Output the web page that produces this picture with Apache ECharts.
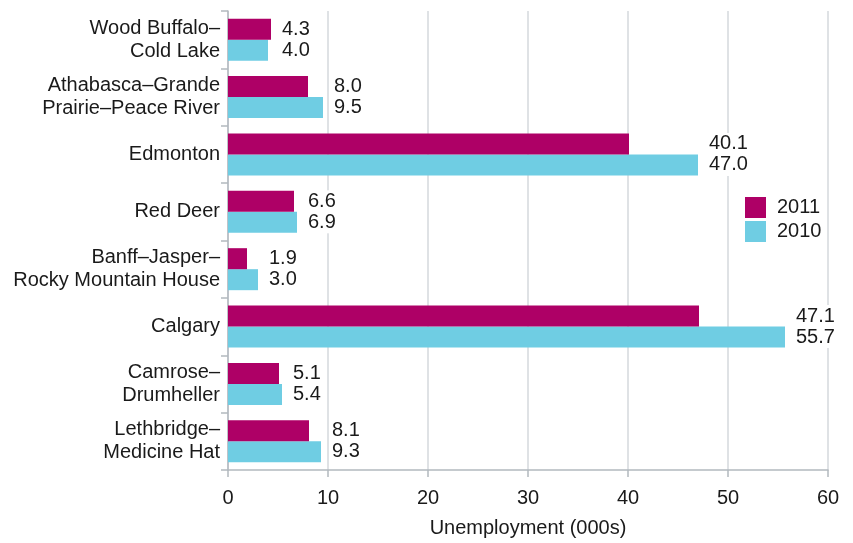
<!DOCTYPE html>
<html>
<head>
<meta charset="utf-8">
<script src="https://cdn.jsdelivr.net/npm/echarts@6/dist/echarts.min.js"></script>
<style>
html,body{margin:0;padding:0;background:#fff;}
#chart{width:853px;height:543px;}
</style>
</head>
<body>
<div id="chart"></div>
<script>
var categories = [
  "Wood Buffalo–\nCold Lake",
  "Athabasca–Grande\nPrairie–Peace River",
  "Edmonton",
  "Red Deer",
  "Banff–Jasper–\nRocky Mountain House",
  "Calgary",
  "Camrose–\nDrumheller",
  "Lethbridge–\nMedicine Hat"
];
var values2011 = [4.3, 8.0, 40.1, 6.6, 1.9, 47.1, 5.1, 8.1];
var values2010 = [4.0, 9.5, 47.0, 6.9, 3.0, 55.7, 5.4, 9.3];
var seriesNames = ["2011", "2010"];
var xTicks = [0, 10, 20, 30, 40, 50, 60];

var FONT = "'Liberation Sans', Helvetica, Arial, sans-serif";
var C2011 = "#AE0066";
var C2010 = "#6FCDE3";
var AXIS = "#b3b9bf";
var GRID = "#d5d9dd";

var chart = echarts.init(document.getElementById('chart'), null, {renderer: 'canvas'});

function labelCfg() {
  return {
    show: true,
    position: 'right',
    distance: 5,
    formatter: function (p) { return p.value.toFixed(1); },
    fontFamily: FONT,
    fontSize: 20,
    color: '#1a1a1a',
    backgroundColor: '#fff',
    padding: [1, 1]
  };
}

var option = {
  animation: false,
  backgroundColor: '#fff',
  textStyle: {fontFamily: FONT},
  grid: {left: 228, right: 25, top: 11, bottom: 73, containLabel: false},
  legend: {
    data: seriesNames,
    orient: 'vertical',
    left: 740,
    top: 192,
    itemWidth: 21,
    itemHeight: 21,
    itemGap: 3,
    icon: 'rect',
    textStyle: {fontFamily: FONT, fontSize: 20, color: '#1a1a1a', padding: [0, 0, 0, 6]}
  },
  xAxis: {
    type: 'value',
    min: xTicks[0],
    max: xTicks[xTicks.length - 1],
    interval: xTicks[1] - xTicks[0],
    name: 'Unemployment (000s)',
    nameLocation: 'middle',
    nameGap: 48,
    nameTextStyle: {fontFamily: FONT, fontSize: 20, color: '#1a1a1a'},
    axisLine: {show: true, lineStyle: {color: AXIS, width: 1.5}},
    axisTick: {show: true, length: 7, lineStyle: {color: AXIS, width: 1.5}},
    axisLabel: {fontFamily: FONT, fontSize: 20, color: '#1a1a1a', margin: 18},
    splitLine: {show: true, lineStyle: {color: GRID, width: 1.5}}
  },
  yAxis: {
    type: 'category',
    data: categories,
    inverse: true,
    axisLine: {show: true, lineStyle: {color: AXIS, width: 1.5}},
    axisTick: {show: true, length: 7, interval: 0, lineStyle: {color: AXIS, width: 1.5}},
    axisLabel: {fontFamily: FONT, fontSize: 20, color: '#1a1a1a', margin: 8, lineHeight: 23, align: 'right', interval: 0},
    splitLine: {show: false}
  },
  series: [
    {
      name: seriesNames[0], type: 'bar', data: values2011,
      itemStyle: {color: C2011},
      barWidth: 21, barGap: '0%', barCategoryGap: '27%',
      label: labelCfg(), z: 3
    },
    {
      name: seriesNames[1], type: 'bar', data: values2010,
      itemStyle: {color: C2010},
      barWidth: 21, barGap: '0%', barCategoryGap: '27%',
      label: labelCfg(), z: 2
    }
  ]
};
chart.setOption(option);

// place both labels of a pair just right of the longer bar
var ppu = chart.convertToPixel({xAxisIndex: 0}, 1) - chart.convertToPixel({xAxisIndex: 0}, 0);
var GAP = 5;
function itemsWithOffsets(vals, other) {
  return vals.map(function (v, i) {
    var m = Math.max(v, other[i]);
    return {value: v, label: {offset: [(m - v) * ppu + GAP, 0]}};
  });
}
chart.setOption({
  series: [
    {data: itemsWithOffsets(values2011, values2010)},
    {data: itemsWithOffsets(values2010, values2011)}
  ]
});
</script>
</body>
</html>
